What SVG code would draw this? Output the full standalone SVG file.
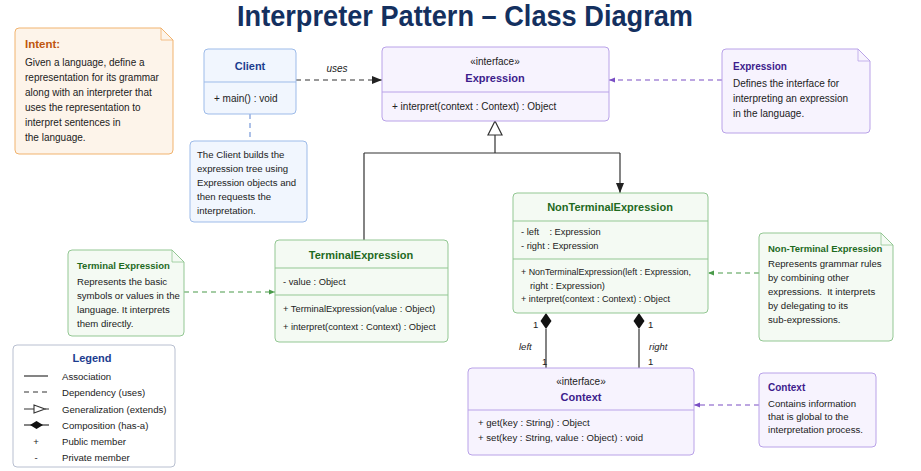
<svg xmlns="http://www.w3.org/2000/svg" width="921" height="471" viewBox="0 0 921 471">
<defs>
<style>
text{font-family:"Liberation Sans",Arial,sans-serif;fill:#222;}
.t{font-size:10px;}
.m{font-size:9.3px;}
.l{font-size:9.6px;}
.n{font-size:9.6px;}
.b{font-weight:bold;}
.ct{font-size:11px;font-weight:bold;text-anchor:middle;}
.st{font-size:10px;text-anchor:middle;}
.blue{fill:#f1f6fe;stroke:#9dbbe9;stroke-width:1;}
.purp{fill:#f7f3fe;stroke:#b9a2e8;stroke-width:1;}
.green{fill:#f4faf3;stroke:#93c793;stroke-width:1;}
.orange{fill:#fdf4ea;stroke:#f1b36e;stroke-width:1;}
.div-b{stroke:#9dbbe9;}
.div-p{stroke:#b9a2e8;}
.div-g{stroke:#93c793;}
.line{stroke:#333;stroke-width:1.2;fill:none;}
.dash{stroke:#333;stroke-width:1.2;fill:none;stroke-dasharray:5 4;}
.dp{stroke:#7a4fc4;stroke-width:1.1;fill:none;stroke-dasharray:5 4;}
.dg{stroke:#4a9a4a;stroke-width:1.1;fill:none;stroke-dasharray:5 4;}
.db{stroke:#6a8fd6;stroke-width:1.1;fill:none;stroke-dasharray:5 4;}
.fold{fill:none;stroke-width:0.8;}
</style>
<marker id="ah" viewBox="0 0 10 10" refX="10" refY="5" markerWidth="10" markerHeight="10" markerUnits="userSpaceOnUse" orient="auto"><path d="M0,1 L10,5 L0,9 Z" fill="#222"/></marker>
<marker id="ap" viewBox="0 0 10 10" refX="10" refY="5" markerWidth="6" markerHeight="6" markerUnits="userSpaceOnUse" orient="auto"><path d="M0,1 L10,5 L0,9 Z" fill="#7a4fc4"/></marker>
<marker id="ag" viewBox="0 0 10 10" refX="10" refY="5" markerWidth="6" markerHeight="6" markerUnits="userSpaceOnUse" orient="auto"><path d="M0,1 L10,5 L0,9 Z" fill="#4a9a4a"/></marker>
</defs>
<rect width="921" height="471" fill="#ffffff"/>

<text x="465" y="26" text-anchor="middle" font-size="29" font-weight="bold" style="fill:#14305f" textLength="456" lengthAdjust="spacingAndGlyphs">Interpreter Pattern – Class Diagram</text>

<!-- connectors -->
<g id="connectors">
  <path class="dash" d="M296,80 H382" marker-end="url(#ah)"/>
  <text x="337" y="72" class="t" font-style="italic" text-anchor="middle">uses</text>
  <path class="db" d="M250,114 V141"/>
  <path class="dp" d="M722,80 H609" marker-end="url(#ap)"/>
  <path class="line" d="M495,135 V153 M364,153 H620 M364,153 V240"/>
  <path class="line" d="M620,153 V193" marker-end="url(#ah)"/>
  <polygon points="495,121 488,135 502,135" fill="#fff" stroke="#333" stroke-width="1.2"/>
  <path class="dg" d="M184,292 H275" marker-end="url(#ag)"/>
  <path class="dg" d="M759,273 H708" marker-end="url(#ag)"/>
  <path class="dp" d="M759,405 H694" marker-end="url(#ap)"/>
  <path class="line" stroke-width="1.5" d="M546,329 V368 M639,329 V368"/>
  <polygon points="546,313 551.5,321 546,329 540.5,321" fill="#111"/>
  <polygon points="639,313 644.5,321 639,329 633.5,321" fill="#111"/>
  <text x="533" y="328" font-size="9.5">1</text>
  <text x="648" y="328" font-size="9.5">1</text>
  <text x="519" y="350" font-size="9.5" font-style="italic">left</text>
  <text x="649" y="350" font-size="9.5" font-style="italic">right</text>
  <text x="542" y="365" font-size="9.5">1</text>
  <text x="648" y="365" font-size="9.5">1</text>
</g>

<!-- Intent note -->
<g id="intent-note">
  <path class="orange" d="M19,28 H161 L173,40 V150 Q173,154 169,154 H19 Q15,154 15,150 V32 Q15,28 19,28 Z"/>
  <path class="fold" stroke="#f1b36e" d="M161,28 V40 H173"/>
  <text x="25" y="48" font-size="11.5" class="b" style="fill:#c0560e">Intent:</text>
  <text class="t" x="25" y="66">Given a language, define a</text>
  <text class="t" x="25" y="81">representation for its grammar</text>
  <text class="t" x="25" y="96">along with an interpreter that</text>
  <text class="t" x="25" y="111">uses the representation to</text>
  <text class="t" x="25" y="126">interpret sentences in</text>
  <text class="t" x="25" y="141">the language.</text>
</g>

<!-- Client -->
<g id="client">
  <rect class="blue" x="204" y="49" width="92" height="65" rx="4"/>
  <line class="div-b" x1="204" y1="82" x2="296" y2="82"/>
  <text class="ct" x="250" y="70" style="fill:#1c3d8f">Client</text>
  <text class="t" x="214" y="102">+ main() : void</text>
</g>

<g id="client-note">
  <rect class="blue" x="190" y="141" width="117" height="81" rx="4"/>
  <text class="n" x="197" y="158">The Client builds the</text>
  <text class="n" x="197" y="172">expression tree using</text>
  <text class="n" x="197" y="186">Expression objects and</text>
  <text class="n" x="197" y="200">then requests the</text>
  <text class="n" x="197" y="214">interpretation.</text>
</g>

<!-- Expression -->
<g id="expression">
  <rect class="purp" x="382" y="47" width="227" height="74" rx="4"/>
  <line class="div-p" x1="382" y1="92" x2="609" y2="92"/>
  <text class="st" x="495" y="65">«interface»</text>
  <text class="ct" x="495" y="82" style="fill:#3d1c8c">Expression</text>
  <text class="t" x="392" y="110">+ interpret(context : Context) : Object</text>
</g>

<g id="expression-note">
  <path class="purp" d="M726,49 H858 L870,61 V129 Q870,133 866,133 H726 Q722,133 722,129 V53 Q722,49 726,49 Z"/>
  <path class="fold" stroke="#b9a2e8" d="M858,49 V61 H870"/>
  <text x="733" y="70" font-size="10" class="b" style="fill:#3d1c8c">Expression</text>
  <text class="t" x="733" y="87">Defines the interface for</text>
  <text class="t" x="733" y="102">interpreting an expression</text>
  <text class="t" x="733" y="117">in the language.</text>
</g>

<!-- TerminalExpression -->
<g id="terminal-expression">
  <rect class="green" x="275" y="240" width="173" height="102" rx="4"/>
  <line class="div-g" x1="275" y1="268" x2="448" y2="268"/>
  <line class="div-g" x1="275" y1="295" x2="448" y2="295"/>
  <text class="ct" x="361" y="259" style="fill:#1f6a1f">TerminalExpression</text>
  <text class="m" x="283" y="285">- value : Object</text>
  <text class="m" x="283" y="312">+ TerminalExpression(value : Object)</text>
  <text class="m" x="283" y="330">+ interpret(context : Context) : Object</text>
</g>

<g id="terminal-note">
  <path class="green" d="M72,250 H172 L184,262 V332 Q184,336 180,336 H72 Q68,336 68,332 V254 Q68,250 72,250 Z"/>
  <path class="fold" stroke="#93c793" d="M172,250 V262 H184"/>
  <text x="77" y="269" font-size="9.5" class="b" style="fill:#1f6a1f">Terminal Expression</text>
  <text class="n" x="77" y="285">Represents the basic</text>
  <text class="n" x="77" y="299">symbols or values in the</text>
  <text class="n" x="77" y="313">language. It interprets</text>
  <text class="n" x="77" y="327">them directly.</text>
</g>

<!-- NonTerminalExpression -->
<g id="nonterminal-expression">
  <rect class="green" x="513" y="193" width="195" height="120" rx="4"/>
  <line class="div-g" x1="513" y1="221" x2="708" y2="221"/>
  <line class="div-g" x1="513" y1="259" x2="708" y2="259"/>
  <text class="ct" x="610" y="211" style="fill:#1f6a1f">NonTerminalExpression</text>
  <text class="m" x="521" y="235" xml:space="preserve">- left    : Expression</text>
  <text class="m" x="521" y="249">- right  : Expression</text>
  <text class="m" x="521" y="275" textLength="170" lengthAdjust="spacingAndGlyphs">+ NonTerminalExpression(left : Expression,</text>
  <text class="m" x="530" y="289">right : Expression)</text>
  <text class="m" x="521" y="302" textLength="149" lengthAdjust="spacingAndGlyphs">+ interpret(context : Context) : Object</text>
</g>

<g id="nonterminal-note">
  <path class="green" d="M763,233 H881 L893,245 V337 Q893,341 889,341 H763 Q759,341 759,337 V237 Q759,233 763,233 Z"/>
  <path class="fold" stroke="#93c793" d="M881,233 V245 H893"/>
  <text x="768" y="252" font-size="9.5" class="b" style="fill:#1f6a1f">Non-Terminal Expression</text>
  <text class="n" x="768" y="267">Represents grammar rules</text>
  <text class="n" x="768" y="281">by combining other</text>
  <text class="n" x="768" y="295" xml:space="preserve">expressions.  It interprets</text>
  <text class="n" x="768" y="309">by delegating to its</text>
  <text class="n" x="768" y="323">sub-expressions.</text>
</g>

<!-- Context -->
<g id="context">
  <rect class="purp" x="468" y="368" width="226" height="87" rx="4"/>
  <line class="div-p" x1="468" y1="410" x2="694" y2="410"/>
  <text class="st" x="581" y="385">«interface»</text>
  <text class="ct" x="581" y="401" style="fill:#3d1c8c">Context</text>
  <text class="l" x="478" y="426">+ get(key : String) : Object</text>
  <text class="l" x="478" y="441">+ set(key : String, value : Object) : void</text>
</g>

<g id="context-note">
  <rect class="purp" x="759" y="373" width="117" height="74" rx="4"/>
  <text x="768" y="391" font-size="10" class="b" style="fill:#3d1c8c">Context</text>
  <text class="n" x="768" y="407">Contains information</text>
  <text class="n" x="768" y="420">that is global to the</text>
  <text class="n" x="768" y="433">interpretation process.</text>
</g>

<!-- Legend -->
<g id="legend">
  <rect x="13" y="345" width="162" height="122" rx="4" fill="#fff" stroke="#b8bfd0" stroke-width="1"/>
  <text x="92" y="362" text-anchor="middle" font-size="11" class="b" style="fill:#1c3d8f">Legend</text>
  <line class="line" x1="24" y1="376" x2="48" y2="376"/>
  <text class="l" x="62" y="379.5">Association</text>
  <line class="dash" stroke-dasharray="3 3" x1="24" y1="392" x2="48" y2="392"/>
  <text class="l" x="62" y="395.5">Dependency (uses)</text>
  <path class="line" d="M24,409 H34 M45,409 H49"/>
  <polygon points="34,405 45,409 34,413" fill="#fff" stroke="#333" stroke-width="1.1"/>
  <text class="l" x="62" y="412.5">Generalization (extends)</text>
  <path class="line" d="M24,425 H49"/>
  <polygon points="30,425 36.5,421 43,425 36.5,429" fill="#111"/>
  <text class="l" x="62" y="428.5">Composition (has-a)</text>
  <text class="l" x="36" y="444.5" text-anchor="middle">+</text>
  <text class="l" x="62" y="444.5">Public member</text>
  <text class="l" x="36" y="460.5" text-anchor="middle">-</text>
  <text class="l" x="62" y="460.5">Private member</text>
</g>
</svg>
